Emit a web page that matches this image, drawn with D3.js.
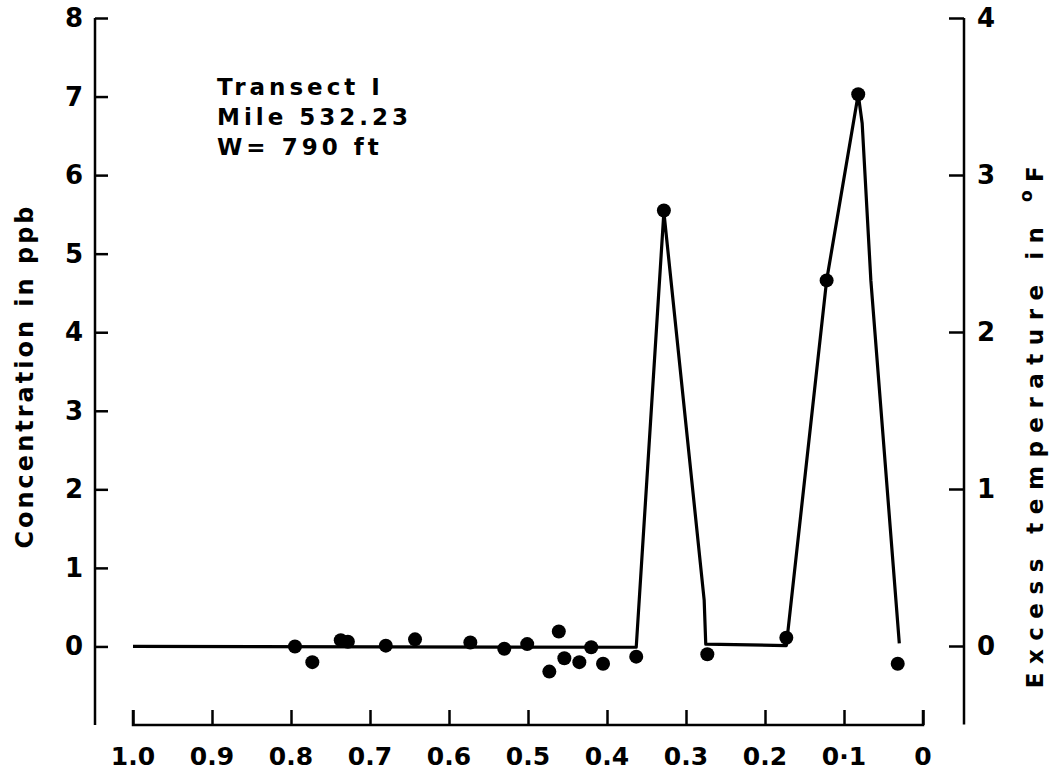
<!DOCTYPE html>
<html>
<head>
<meta charset="utf-8">
<script src="https://cdn.jsdelivr.net/npm/d3@7"></script>
<style>
  body { margin: 0; background: #fff; }
  svg { display: block; }
  text { font-family: "DejaVu Sans", sans-serif; font-weight: bold; fill: #000; }
</style>
</head>
<body>
<div id="chart"></div>
<script>
// distance fraction across transect (1.0 = far bank, 0 = near bank)
var dotX    = [0.795, 0.773, 0.737, 0.728, 0.680, 0.643, 0.573, 0.530, 0.501, 0.461, 0.473,
               0.454, 0.435, 0.420, 0.405, 0.363, 0.328, 0.273, 0.173, 0.122, 0.082, 0.032];
// concentration in ppb
var dotConc = [0.00, -0.20, 0.08, 0.06, 0.01, 0.09, 0.05, -0.03, 0.03, 0.19, -0.32,
               -0.15, -0.20, -0.01, -0.22, -0.13, 5.55, -0.10, 0.11, 4.66, 7.03, -0.22];

// the hand drawn profile line
var lineX    = [1.000, 0.363, 0.328, 0.277, 0.275, 0.173, 0.122, 0.082, 0.077, 0.066, 0.030];
var lineConc = [0.00, -0.01, 5.53, 0.59, 0.03, 0.01, 4.66, 7.03, 6.66, 4.66, 0.04];

var xTicks = [1.0, 0.9, 0.8, 0.7, 0.6, 0.5, 0.4, 0.3, 0.2, 0.1, 0];
var xTickLabels = ["1.0", "0.9", "0.8", "0.7", "0.6", "0.5", "0.4", "0.3", "0.2", "0\u00b71", "0"];
var leftTicks = [0, 1, 2, 3, 4, 5, 6, 7, 8];
var rightTicks = [0, 1, 2, 3, 4];

var infoLines = ["Transect I", "Mile 532.23", "W= 790 ft"];

var width = 1050, height = 772;

var svg = d3.select("#chart").append("svg")
    .attr("width", width)
    .attr("height", height);

var x = d3.scaleLinear().domain([1, 0]).range([133, 923]);
var yL = d3.scaleLinear().domain([-1, 8]).range([725, 18]);
var yR = d3.scaleLinear().domain([-0.5, 4]).range([724.5, 18]);

// bottom axis, ticks pointing up
var xAxis = d3.axisTop(x).tickValues(xTicks).tickSize(15).tickFormat("");
var gx = svg.append("g").attr("transform", "translate(0,725)").call(xAxis);
gx.select(".domain").attr("d", "M" + x(1) + ",-15V0H" + x(0) + "V-15");

svg.selectAll(".xlab")
  .data(xTicks)
  .enter().append("text")
  .attr("class", "xlab")
  .attr("x", function(d) { return x(d); })
  .attr("y", 765)
  .attr("text-anchor", "middle")
  .style("font-size", "25px")
  .text(function(d, i) { return xTickLabels[i]; });

// left axis
var yAxisL = d3.axisRight(yL).tickValues(leftTicks).tickSize(13).tickFormat("");
var gl = svg.append("g").attr("transform", "translate(95,0)").call(yAxisL);
gl.select(".domain").attr("d", "M0," + yL(8) + "V" + yL(-1));

svg.selectAll(".ylab")
  .data(leftTicks)
  .enter().append("text")
  .attr("class", "ylab")
  .attr("x", 83)
  .attr("y", function(d) { return yL(d) + 9; })
  .attr("text-anchor", "end")
  .style("font-size", "26px")
  .text(function(d) { return d; });

// right axis
var yAxisR = d3.axisLeft(yR).tickValues(rightTicks).tickSize(15).tickFormat("");
var gr = svg.append("g").attr("transform", "translate(964,0)").call(yAxisR);
gr.select(".domain").attr("d", "M0," + yR(4) + "V" + yR(-0.5));

svg.selectAll(".rlab")
  .data(rightTicks)
  .enter().append("text")
  .attr("class", "rlab")
  .attr("x", 977)
  .attr("y", function(d) { return yR(d) + 9; })
  .style("font-size", "26px")
  .text(function(d) { return d; });

svg.selectAll(".domain, .tick line")
  .attr("stroke", "#000")
  .attr("stroke-width", 2.5);

// axis titles
svg.append("text")
  .attr("transform", "translate(33,376) rotate(-90)")
  .attr("text-anchor", "middle")
  .style("font-size", "24px")
  .style("letter-spacing", "3px")
  .text("Concentration in ppb");

var rt = svg.append("text")
  .attr("transform", "translate(1043,423) rotate(-90)")
  .attr("text-anchor", "middle")
  .style("font-size", "23px")
  .style("letter-spacing", "8.5px");
rt.append("tspan").text("Excess temperature in ");
rt.append("tspan").attr("dy", -11).style("font-size", "17px").text("o");
rt.append("tspan").attr("dy", 11).text("F");

// info block
svg.selectAll(".info")
  .data(infoLines)
  .enter().append("text")
  .attr("class", "info")
  .attr("x", 217)
  .attr("y", function(d, i) { return 95 + i * 30; })
  .style("font-size", "23px")
  .style("letter-spacing", "4px")
  .text(function(d) { return d; });

// profile line
var pts = lineX.map(function(d, i) { return [d, lineConc[i]]; });
var line = d3.line()
  .x(function(d) { return x(d[0]); })
  .y(function(d) { return yL(d[1]); });

svg.append("path")
  .datum(pts)
  .attr("d", line)
  .attr("fill", "none")
  .attr("stroke", "#000")
  .attr("stroke-width", 3.2)
  .attr("stroke-linejoin", "round");

// sample dots
svg.selectAll(".dot")
  .data(dotX)
  .enter().append("circle")
  .attr("class", "dot")
  .attr("cx", function(d) { return x(d); })
  .attr("cy", function(d, i) { return yL(dotConc[i]); })
  .attr("r", 7)
  .attr("fill", "#000");
</script>
</body>
</html>
